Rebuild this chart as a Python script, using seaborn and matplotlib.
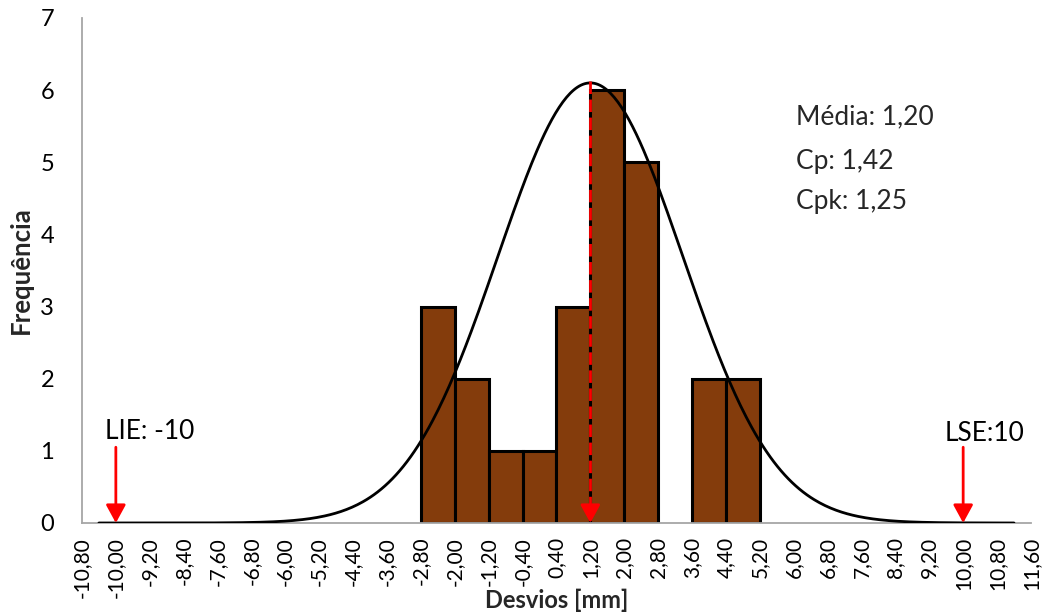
import numpy as np
import matplotlib
matplotlib.use("Agg")
import matplotlib.pyplot as plt
import seaborn as sns

# Histogram of deviations: bin edges and counts per bin
bin_edges = [-2.8, -2.0, -1.2, -0.4, 0.4, 1.2, 2.0, 2.8, 3.6, 4.4, 5.2]
frequencies = [3, 2, 1, 1, 3, 6, 5, 0, 2, 2]

# Process statistics and specification limits
mean_dev = 1.20
cp = 1.42
cpk = 1.25
lie = -10
lse = 10

# Fitted normal curve drawn over the histogram
curve_sigma = 2.18
curve_peak = 6.1
curve_start, curve_end = -10.4, 11.2

# X axis tick positions (step of 0.80 mm)
x_ticks = [-10.8, -10.0, -9.2, -8.4, -7.6, -6.8, -6.0, -5.2, -4.4, -3.6,
           -2.8, -2.0, -1.2, -0.4, 0.4, 1.2, 2.0, 2.8, 3.6, 4.4, 5.2,
           6.0, 6.8, 7.6, 8.4, 9.2, 10.0, 10.8, 11.6]
y_ticks = [0, 1, 2, 3, 4, 5, 6, 7]

sns.set_theme(style="white")
plt.rcParams["font.family"] = ["Lato", "DejaVu Sans"]

axis_grey = "#a6a6a6"
bar_brown = "#843c0c"

fig, ax = plt.subplots(figsize=(10.44, 6.16), dpi=100)
fig.subplots_adjust(left=0.0785, right=0.9875, top=0.9708, bottom=0.151)

centers = [(a + b) / 2 for a, b in zip(bin_edges[:-1], bin_edges[1:])]
sns.histplot(x=centers, weights=frequencies, bins=bin_edges, color=bar_brown,
             edgecolor="black", linewidth=2.2, alpha=1.0, ax=ax, zorder=2)
for p in ax.patches:
    if p.get_height() == 0:
        p.set_visible(False)

xs = np.linspace(curve_start, curve_end, 500)
ys = curve_peak * np.exp(-0.5 * ((xs - mean_dev) / curve_sigma) ** 2)
sns.lineplot(x=xs, y=ys, color="black", linewidth=2.0, ax=ax, zorder=3)

# Mean marker: dashed red line with a solid arrow head at the base
head = "-|>,head_length=0.55,head_width=0.3"
ax.plot([mean_dev, mean_dev], [curve_peak + 0.03, 0.2], color="red",
        linewidth=2.0, linestyle=(0, (4.5, 2)), zorder=4)
ax.annotate("", xy=(mean_dev, 0), xytext=(mean_dev, 0.25),
            arrowprops=dict(arrowstyle=head, color="red", lw=2.0,
                            mutation_scale=20, shrinkA=0, shrinkB=0),
            zorder=5)

# Specification limit arrows
for lim in (lie, lse):
    ax.annotate("", xy=(lim, 0), xytext=(lim, 1.05),
                arrowprops=dict(arrowstyle=head, color="red", lw=2.0,
                                mutation_scale=20, shrinkA=0, shrinkB=0),
                zorder=5)

def fmt(v):
    return f"{v:.2f}".replace(".", ",")

ax.text(-10.26, 1.16, f"LIE: {lie}", fontsize=19, color="black",
        ha="left", va="baseline")
ax.text(9.57, 1.13, f"LSE:{lse}", fontsize=19, color="black",
        ha="left", va="baseline")

ax.text(6.05, 5.52, f"Média: {fmt(mean_dev)}", fontsize=19, ha="left", va="baseline")
ax.text(6.05, 4.90, f"Cp: {fmt(cp)}", fontsize=19, ha="left", va="baseline")
ax.text(6.05, 4.35, f"Cpk: {fmt(cpk)}", fontsize=19, ha="left", va="baseline")

ax.set_xlim(-10.8, 11.6)
ax.set_ylim(0, 7)
ax.set_xticks(x_ticks)
ax.set_xticklabels([fmt(v) for v in x_ticks], rotation=90, fontsize=15)
ax.set_yticks(y_ticks)
ax.set_yticklabels([str(v) for v in y_ticks], fontsize=17)

ax.set_xlabel("Desvios [mm]", fontsize=17, fontweight="bold")
ax.xaxis.set_label_coords(0.5, -0.131)
ax.set_ylabel("Frequência", fontsize=18.5, fontweight="bold")
ax.yaxis.set_label_coords(-0.052, 0.5)

sns.despine(ax=ax)
for side in ("left", "bottom"):
    ax.spines[side].set_color(axis_grey)
    ax.spines[side].set_linewidth(1.3)
ax.tick_params(axis="both", which="major", direction="out", length=6,
               width=1.3, color=axis_grey, labelcolor="black")
ax.tick_params(axis="x", pad=4)
ax.tick_params(axis="y", pad=14)
ax.grid(False)

fig.savefig("out.png", dpi=100)
